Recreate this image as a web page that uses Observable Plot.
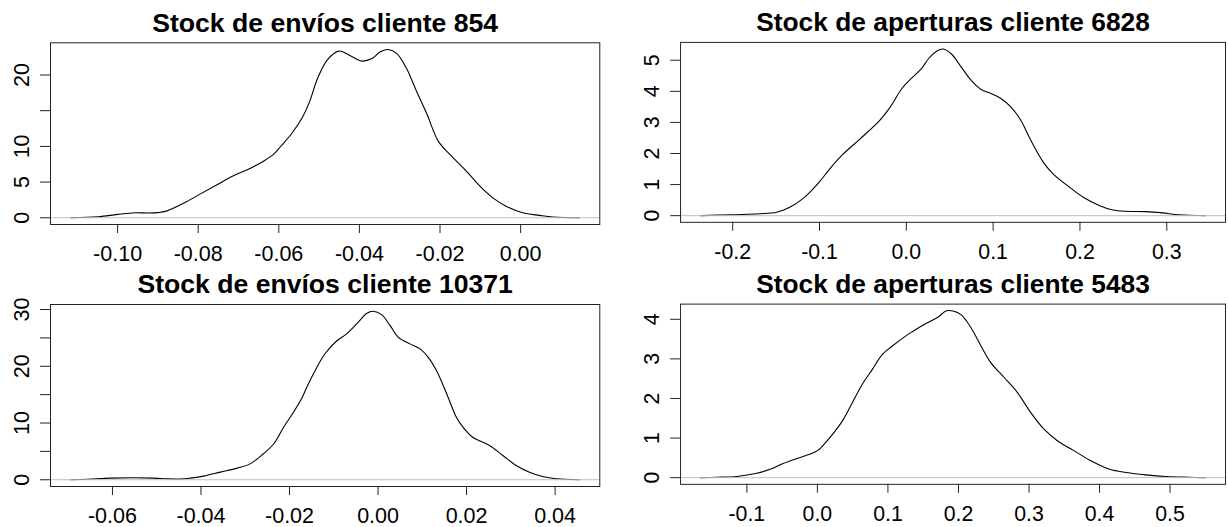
<!DOCTYPE html>
<html>
<head>
<meta charset="utf-8">
<script src="https://cdn.jsdelivr.net/npm/d3@7"></script>
<script src="https://cdn.jsdelivr.net/npm/@observablehq/plot@0.6"></script>
<style>
  html, body { margin: 0; padding: 0; background: #fff; }
  #fig { position: relative; width: 1228px; height: 527px; overflow: hidden; background: #fff; }
  .panel { position: absolute; }
  .panel svg { overflow: visible; display: block; }
</style>
</head>
<body>
<div id="fig"></div>
<script>
// Kernel density estimates of the stock series, one per client.

// Stock de envíos, cliente 854
const envios854X = [-0.1116, -0.1048, -0.1000, -0.0957, -0.0924, -0.0900, -0.0879, -0.0834, -0.0800, -0.0760,
  -0.0710, -0.0669, -0.0636, -0.0612, -0.0596, -0.0566, -0.0542, -0.0524, -0.0504, -0.0480,
  -0.0451, -0.0426, -0.0394, -0.0369, -0.0348, -0.0328, -0.0307, -0.0283, -0.0258, -0.0233,
  -0.0204, -0.0175, -0.0134, -0.0101, -0.0069, -0.0036, 0.0005, 0.0047, 0.0080, 0.0146];
const envios854Y = [0.00, 0.14, 0.47, 0.70, 0.66, 0.72, 0.93, 2.10, 3.17, 4.42,
  5.95, 6.98, 8.00, 8.95, 9.95, 11.95, 14.0, 16.2, 19.5, 22.1,
  23.35, 22.8, 21.95, 22.3, 23.25, 23.57, 23.0, 20.9, 17.7, 14.6,
  10.7, 8.84, 6.50, 4.42, 2.79, 1.63, 0.70, 0.33, 0.10, 0.00];
const envios854XTicks = [-0.10, -0.08, -0.06, -0.04, -0.02, 0.00];
const envios854XLabels = ["-0.10", "-0.08", "-0.06", "-0.04", "-0.02", "0.00"];
const envios854YTicks = [0, 5, 10, 15, 20];
const envios854YLabels = ["0", "5", "10", "", "20"];

// Stock de aperturas, cliente 6828
const aperturas6828X = [-0.2368, -0.1989, -0.1684, -0.1495, -0.1342, -0.1191, -0.1077, -0.0994, -0.0886, -0.0735,
  -0.0545, -0.0317, -0.0184, -0.0051, 0.0063, 0.0177, 0.0253, 0.0348, 0.0424, 0.0519,
  0.0633, 0.0747, 0.0861, 0.0975, 0.1089, 0.1203, 0.1317, 0.1431, 0.1583, 0.1696,
  0.1887, 0.2038, 0.2228, 0.2380, 0.2533, 0.2761, 0.2950, 0.3140, 0.3444];
const aperturas6828Y = [0.00, 0.03, 0.06, 0.11, 0.27, 0.55, 0.85, 1.11, 1.49, 1.96,
  2.44, 3.03, 3.50, 4.09, 4.43, 4.74, 5.04, 5.29, 5.36, 5.20,
  4.78, 4.35, 4.06, 3.93, 3.77, 3.50, 3.08, 2.44, 1.70, 1.33,
  0.90, 0.59, 0.32, 0.18, 0.14, 0.13, 0.09, 0.03, 0.00];
const aperturas6828XTicks = [-0.2, -0.1, 0.0, 0.1, 0.2, 0.3];
const aperturas6828XLabels = ["-0.2", "-0.1", "0.0", "0.1", "0.2", "0.3"];
const aperturas6828YTicks = [0, 1, 2, 3, 4, 5];
const aperturas6828YLabels = ["0", "1", "2", "3", "4", "5"];

// Stock de envíos, cliente 10371
const envios10371X = [-0.0694, -0.0656, -0.0604, -0.0551, -0.0506, -0.0476, -0.0446, -0.0424, -0.0394, -0.0356,
  -0.0318, -0.0289, -0.0259, -0.0236, -0.0213, -0.0191, -0.0172, -0.0161, -0.0142, -0.0120,
  -0.0093, -0.0071, -0.0045, -0.0026, -0.0011, 0.0008, 0.0027, 0.0046, 0.0072, 0.0095,
  0.0113, 0.0132, 0.0155, 0.0177, 0.0192, 0.0214, 0.0252, 0.0282, 0.0312, 0.0342,
  0.0372, 0.0402, 0.0455];
const envios10371Y = [0.00, 0.10, 0.29, 0.35, 0.29, 0.15, 0.12, 0.29, 0.64, 1.35,
  2.05, 2.80, 4.58, 6.30, 9.30, 11.9, 14.4, 16.3, 19.25, 22.2,
  24.5, 25.7, 27.75, 29.3, 29.7, 29.1, 27.2, 25.1, 23.95, 23.07,
  21.6, 19.25, 15.15, 11.0, 9.26, 7.50, 6.04, 4.28, 2.52, 1.34,
  0.58, 0.18, 0.00];
const envios10371XTicks = [-0.06, -0.04, -0.02, 0.00, 0.02, 0.04];
const envios10371XLabels = ["-0.06", "-0.04", "-0.02", "0.00", "0.02", "0.04"];
const envios10371YTicks = [0, 5, 10, 15, 20, 25, 30];
const envios10371YLabels = ["0", "", "10", "", "20", "", "30"];

// Stock de aperturas, cliente 5483
const aperturas5483X = [-0.1654, -0.1421, -0.1140, -0.0860, -0.0672, -0.0485, -0.0299, -0.0111, 0.0006, 0.0122,
  0.0240, 0.0357, 0.0497, 0.0637, 0.0777, 0.0918, 0.1058, 0.1245, 0.1339, 0.1525,
  0.1713, 0.1830, 0.1924, 0.2040, 0.2180, 0.2321, 0.2461, 0.2648, 0.2836, 0.3022,
  0.3209, 0.3397, 0.3630, 0.3864, 0.4145, 0.4379, 0.4659, 0.4940, 0.5267, 0.5500];
const aperturas5483Y = [0.00, 0.01, 0.03, 0.11, 0.21, 0.36, 0.48, 0.59, 0.69, 0.90,
  1.15, 1.44, 1.90, 2.36, 2.73, 3.11, 3.32, 3.57, 3.68, 3.88,
  4.06, 4.215, 4.21, 4.11, 3.78, 3.32, 2.90, 2.53, 2.15, 1.65,
  1.23, 0.94, 0.69, 0.44, 0.21, 0.13, 0.07, 0.03, 0.01, 0.00];
const aperturas5483XTicks = [-0.1, 0.0, 0.1, 0.2, 0.3, 0.4, 0.5];
const aperturas5483XLabels = ["-0.1", "0.0", "0.1", "0.2", "0.3", "0.4", "0.5"];
const aperturas5483YTicks = [0, 1, 2, 3, 4];
const aperturas5483YLabels = ["0", "1", "2", "3", "4"];

const FONT = "'Liberation Sans', Arial, Helvetica, sans-serif";

// One density panel: line, zero reference, box, axes and bold title.
function densityPanel({title, xs, ys, xTicks, xLabels, yTicks, yLabels, left, top, width, height, margin}) {
  const data = xs.map((x, i) => ({x, y: ys[i]}));
  const [x0, x1] = d3.extent(xs);
  const [y0, y1] = d3.extent(ys);
  const padX = 0.04 * (x1 - x0), padY = 0.04 * (y1 - y0);
  const xLab = new Map(xTicks.map((t, i) => [t, xLabels[i]]));
  const yLab = new Map(yTicks.map((t, i) => [t, yLabels[i]]));

  const chart = Plot.plot({
    width, height,
    marginLeft: margin[3], marginRight: margin[1], marginTop: margin[0], marginBottom: margin[2],
    style: {fontFamily: FONT, background: "transparent", overflow: "visible", color: "#000"},
    x: {domain: [x0 - padX, x1 + padX], label: null},
    y: {domain: [y0 - padY, y1 + padY], label: null},
    marks: [
      Plot.line(data, {x: "x", y: "y", curve: "catmull-rom", stroke: "#000", strokeWidth: 1.1}),
      Plot.ruleY([0], {stroke: "#bebebe", strokeWidth: 1}),
      Plot.frame({stroke: "#222", strokeWidth: 1}),
      Plot.axisX(xTicks, {anchor: "bottom", label: null, tickSize: 9, tickPadding: 12.5,
        fontSize: 21.5, stroke: "#222", tickFormat: d => xLab.get(d)}),
      Plot.axisY(yTicks, {anchor: "left", label: null, tickSize: 10, tickPadding: 11.5, tickRotate: -90,
        fontSize: 21.5, stroke: "#222", tickFormat: d => yLab.get(d)}),
      Plot.text([title], {frameAnchor: "top", lineAnchor: "bottom", dy: -11.3,
        fontSize: 26.6, fontWeight: "bold", fill: "#000"})
    ]
  });

  const holder = document.createElement("div");
  holder.className = "panel";
  holder.style.left = left + "px";
  holder.style.top = top + "px";
  holder.appendChild(chart);
  document.getElementById("fig").appendChild(holder);
}

densityPanel({
  title: "Stock de envíos cliente 854",
  xs: envios854X, ys: envios854Y,
  xTicks: envios854XTicks, xLabels: envios854XLabels,
  yTicks: envios854YTicks, yLabels: envios854YLabels,
  left: 0, top: 0, width: 614, height: 264, margin: [42.3, 14.7, 40, 50]
});
densityPanel({
  title: "Stock de aperturas cliente 6828",
  xs: aperturas6828X, ys: aperturas6828Y,
  xTicks: aperturas6828XTicks, xLabels: aperturas6828XLabels,
  yTicks: aperturas6828YTicks, yLabels: aperturas6828YLabels,
  left: 614, top: 0, width: 620, height: 264, margin: [42.3, 3, 40, 66.7]
});
densityPanel({
  title: "Stock de envíos cliente 10371",
  xs: envios10371X, ys: envios10371Y,
  xTicks: envios10371XTicks, xLabels: envios10371XLabels,
  yTicks: envios10371YTicks, yLabels: envios10371YLabels,
  left: 0, top: 264, width: 614, height: 263, margin: [40, 14.7, 41, 50]
});
densityPanel({
  title: "Stock de aperturas cliente 5483",
  xs: aperturas5483X, ys: aperturas5483Y,
  xTicks: aperturas5483XTicks, xLabels: aperturas5483XLabels,
  yTicks: aperturas5483YTicks, yLabels: aperturas5483YLabels,
  left: 614, top: 264, width: 620, height: 263, margin: [40, 3, 41, 66.7]
});
</script>
</body>
</html>
